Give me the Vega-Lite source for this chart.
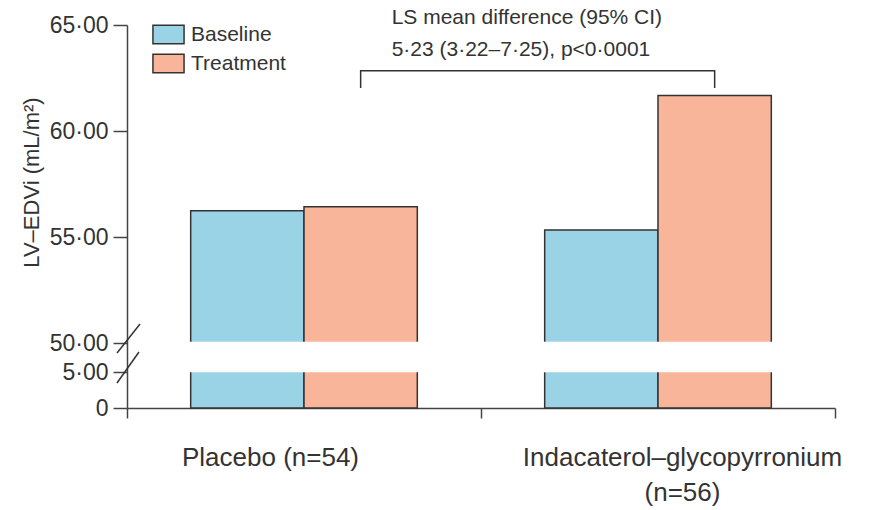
{
  "$schema": "https://vega.github.io/schema/vega-lite/v6.json",
  "width": 708,
  "height": 383,
  "autosize": "none",
  "padding": {"left": 127, "top": 25, "right": 37, "bottom": 102},
  "background": "white",
  "config": {"view": {"stroke": null}, "font": "Liberation Sans"},
  "datasets": {
    "bars": [
      {"group": "Placebo (n=54)", "series": "Baseline", "value": 56.24},
      {"group": "Placebo (n=54)", "series": "Treatment", "value": 56.43},
      {"group": "Indacaterol–glycopyrronium (n=56)", "series": "Baseline", "value": 55.33},
      {"group": "Indacaterol–glycopyrronium (n=56)", "series": "Treatment", "value": 61.68}
    ],
    "gap": [
      {"group": "Placebo (n=54)", "low": 4.95, "high": 50.06},
      {"group": "Indacaterol–glycopyrronium (n=56)", "low": 4.95, "high": 50.06}
    ],
    "bracket": [
      {"group": "Placebo (n=54)", "series": "Treatment", "y": 62.03, "order": 1},
      {"group": "Placebo (n=54)", "series": "Treatment", "y": 62.84, "order": 2},
      {"group": "Indacaterol–glycopyrronium (n=56)", "series": "Treatment", "y": 62.84, "order": 3},
      {"group": "Indacaterol–glycopyrronium (n=56)", "series": "Treatment", "y": 62.03, "order": 4}
    ],
    "note": [
      {"group": "Placebo (n=54)", "series": "Treatment", "y": 65.33, "label": "LS mean difference (95% CI)"},
      {"group": "Placebo (n=54)", "series": "Treatment", "y": 63.82, "label": "5·23 (3·22–7·25), p<0·0001"}
    ],
    "breaks": [
      {"bx": 0.0184, "by": 50.9, "bx2": -0.0141, "by2": 34.48},
      {"bx": 0.0169, "by": 36.03, "bx2": -0.0141, "by2": 3.47}
    ]
  },
  "layer": [
    {
      "layer": [
        {
          "data": {"name": "bars"},
          "mark": {"type": "bar", "stroke": "#333333", "strokeWidth": 1.5},
          "encoding": {
            "x": {
              "field": "group",
              "type": "nominal",
              "scale": {"domain": ["Placebo (n=54)", "Indacaterol–glycopyrronium (n=56)"], "paddingInner": 0, "paddingOuter": 0},
              "axis": {
                "title": null,
                "tickBand": "extent",
                "tickSize": 10,
                "tickWidth": 1.5,
                "tickColor": "#444444",
                "domainColor": "#444444",
                "domainWidth": 1.5,
                "labelAngle": 0,
                "labelLimit": 0,
                "labelFontSize": 26,
                "labelColor": "#333333",
                "labelPadding": 26,
                "labelBaseline": "top",
                "labelLineHeight": 35,
                "labelExpr": "datum.label == '' || !isValid(datum.value) ? '' : (datum.value == 'Placebo (n=54)' ? 'Placebo (n=54)' : ['Indacaterol–glycopyrronium', '(n=56)'])",
                "labelOffset": {"condition": {"test": "datum.value == 'Placebo (n=54)'", "value": -34}, "value": 24}
              }
            },
            "xOffset": {
              "field": "series",
              "type": "nominal",
              "scale": {"domain": ["Baseline", "Treatment"], "paddingInner": 0, "paddingOuter": 0.562}
            },
            "y": {
              "field": "value",
              "type": "quantitative",
              "scale": {"type": "linear", "domain": [0, 5, 50, 65], "range": [383, 347, 318, 0], "nice": false, "zero": false},
              "axis": {
                "values": [0, 5, 50, 55, 60, 65],
                "labelExpr": "datum.value == 0 ? '0' : replace(format(datum.value, '.2f'), '.', '·')",
                "labelOverlap": false,
                "labelFontSize": 23,
                "labelColor": "#333333",
                "labelPadding": 5,
                "tickSize": 14,
                "tickWidth": 1.5,
                "tickColor": "#444444",
                "domainColor": "#444444",
                "domainWidth": 1.5,
                "grid": false,
                "title": "LV–EDVi (mL/m²)",
                "titleFontSize": 22,
                "titleFontWeight": "normal",
                "titleColor": "#333333",
                "titleAngle": -90,
                "titleX": -96,
                "titleY": 157,
                "titleAlign": "center",
                "titleBaseline": "middle"
              }
            },
            "fill": {
              "field": "series",
              "type": "nominal",
              "scale": {"domain": ["Baseline", "Treatment"], "range": ["#9AD3E5", "#F8B599"]},
              "legend": {
                "title": null,
                "orient": "none",
                "legendX": 31,
                "legendY": -1,
                "symbolType": "M-1.7,-1H1.7V1H-1.7Z",
                "symbolSize": 335,
                "symbolStrokeColor": "#333333",
                "symbolStrokeWidth": 1.5,
                "symbolOpacity": 1,
                "labelFontSize": 21,
                "labelColor": "#333333",
                "labelOffset": 12,
                "rowPadding": 4
              }
            }
          }
        },
        {
          "data": {"name": "gap"},
          "mark": {"type": "bar", "fill": "white", "stroke": null, "width": {"band": 0.66}},
          "encoding": {
            "x": {"field": "group", "type": "nominal"},
            "y": {"field": "low", "type": "quantitative"},
            "y2": {"field": "high"}
          }
        },
        {
          "data": {"name": "bracket"},
          "mark": {"type": "line", "stroke": "#333333", "strokeWidth": 1.5, "interpolate": "linear"},
          "encoding": {
            "x": {"field": "group", "type": "nominal"},
            "xOffset": {"field": "series", "type": "nominal"},
            "y": {"field": "y", "type": "quantitative"},
            "order": {"field": "order", "type": "quantitative"}
          }
        },
        {
          "data": {"name": "note"},
          "mark": {"type": "text", "align": "left", "baseline": "middle", "fontSize": 21, "color": "#333333", "dx": 31},
          "encoding": {
            "x": {"field": "group", "type": "nominal"},
            "xOffset": {"field": "series", "type": "nominal"},
            "y": {"field": "y", "type": "quantitative"},
            "text": {"field": "label", "type": "nominal"}
          }
        }
      ]
    },
    {
      "data": {"name": "breaks"},
      "mark": {"type": "rule", "stroke": "#333333", "strokeWidth": 1.5},
      "encoding": {
        "x": {"field": "bx", "type": "quantitative", "scale": {"domain": [0, 1], "nice": false, "zero": false}, "axis": null},
        "x2": {"field": "bx2"},
        "y": {"field": "by", "type": "quantitative"},
        "y2": {"field": "by2"}
      }
    }
  ],
  "resolve": {"scale": {"x": "independent"}}
}
